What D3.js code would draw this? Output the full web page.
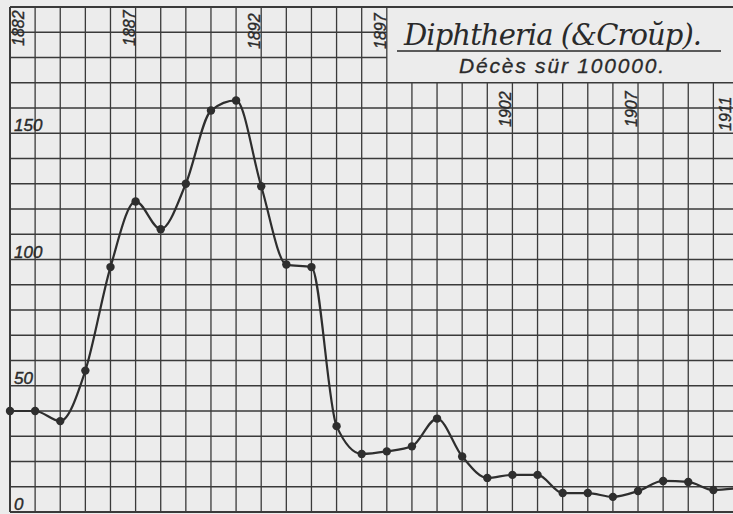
<!DOCTYPE html>
<html>
<head>
<meta charset="utf-8">
<script src="https://cdn.jsdelivr.net/npm/d3@7"></script>
<style>
  html, body { margin: 0; padding: 0; background: #ececec; }
  svg { display: block; }
</style>
</head>
<body>
<div id="chart"></div>
<script>
// ---- data ----
const years = [1882,1883,1884,1885,1886,1887,1888,1889,1890,1891,1892,1893,1894,1895,1896,1897,1898,1899,1900,1901,1902,1903,1904,1905,1906,1907,1908,1909,1910,1911];
const deaths = [40,40,36,56,97,123,112,130,159,163,129,98,97,34,23,24,26,37,22,13.5,14.7,14.7,7.5,7.5,6,8.3,12.3,11.9,8.7,9.5];
const yearLabels = [1882,1887,1892,1897,1902,1907,1911];
const valueLabels = [0,50,100,150];
const gridValues = [0,10,20,30,40,50,60,70,80,90,100,110,120,130,140,150,160,170,180,190,200];
const titleText = "Diphtheria (&Croŭp).";
const subtitleText = "Décès sür 100000.";

// ---- layout ----
const W = 733, H = 514;
const svg = d3.select("#chart").append("svg").attr("width", W).attr("height", H);
svg.append("rect").attr("width", W).attr("height", H).attr("fill", "#ececec");

const x = d3.scaleLinear().domain([1882, 1911]).range([10, 738.5]);
const y = d3.scaleLinear().domain([0, 200]).range([512, 7]);

const boxYear = 1897, boxVal = 170;
const gridColor = "#3a3a3a";
const inkColor = "#2a2a2a";

// vertical grid lines
svg.append("g").selectAll("line").data(years).join("line")
  .attr("x1", d => x(d)).attr("x2", d => x(d))
  .attr("y1", d => d > boxYear ? y(boxVal) : y(200))
  .attr("y2", y(0))
  .attr("stroke", gridColor)
  .attr("stroke-width", d => d === 1882 ? 2 : 1.3);

// horizontal grid lines
svg.append("g").selectAll("line").data(gridValues).join("line")
  .attr("x1", x(1882))
  .attr("x2", d => (d > boxVal && d < 200) ? x(boxYear) : W)
  .attr("y1", d => y(d)).attr("y2", d => y(d))
  .attr("stroke", gridColor)
  .attr("stroke-width", d => (d === 0 || d === 200) ? 2 : 1.3);

// value labels
svg.append("g").selectAll("text").data(valueLabels).join("text")
  .attr("x", 14)
  .attr("y", d => y(d) - 2)
  .attr("font-family", "Liberation Sans, Arial, sans-serif")
  .attr("font-style", "italic")
  .attr("font-size", 17)
  .attr("fill", inkColor)
  .attr("stroke", inkColor)
  .attr("stroke-width", 0.4)
  .text(d => d);

// year labels (rotated)
const yearLabelPos = {1882: [14, 46], 1887: [-1, 46], 1892: [-1, 49], 1897: [-1, 49], 1902: [-1, 127], 1907: [-1, 127], 1911: [-8, 131]};
svg.append("g").selectAll("text").data(yearLabels).join("text")
  .attr("transform", d => `translate(${x(d) + yearLabelPos[d][0]},${yearLabelPos[d][1]}) rotate(-90)`)
  .attr("font-family", "Liberation Sans, Arial, sans-serif")
  .attr("font-style", "italic")
  .attr("font-size", 16)
  .attr("fill", inkColor)
  .attr("stroke", inkColor)
  .attr("stroke-width", 0.4)
  .text(d => d);

// title
svg.append("text")
  .attr("x", 404).attr("y", 45)
  .attr("font-family", "DejaVu Serif, serif")
  .attr("font-style", "italic")
  .attr("font-size", 29)
  .attr("fill", inkColor)
  .attr("textLength", 298)
  .text(titleText);
svg.append("line")
  .attr("x1", 397).attr("x2", 721).attr("y1", 51).attr("y2", 51)
  .attr("stroke", inkColor).attr("stroke-width", 1.6);
svg.append("text")
  .attr("x", 459).attr("y", 73)
  .attr("font-family", "Liberation Sans, Arial, sans-serif")
  .attr("font-style", "italic")
  .attr("font-size", 21)
  .attr("fill", inkColor)
  .attr("stroke", inkColor)
  .attr("stroke-width", 0.3)
  .attr("textLength", 205)
  .text(subtitleText);

// data line
const pts = years.map((yr, i) => ({yr, v: deaths[i]}));
const line = d3.line().x(d => x(d.yr)).y(d => y(d.v)).curve(d3.curveMonotoneX);
svg.append("path").datum(pts)
  .attr("d", line)
  .attr("fill", "none")
  .attr("stroke", "#2e2e2e")
  .attr("stroke-width", 2.2);

svg.append("g").selectAll("circle").data(pts).join("circle")
  .attr("cx", d => x(d.yr)).attr("cy", d => y(d.v))
  .attr("r", 4.2)
  .attr("fill", "#2e2e2e");
</script>
</body>
</html>
